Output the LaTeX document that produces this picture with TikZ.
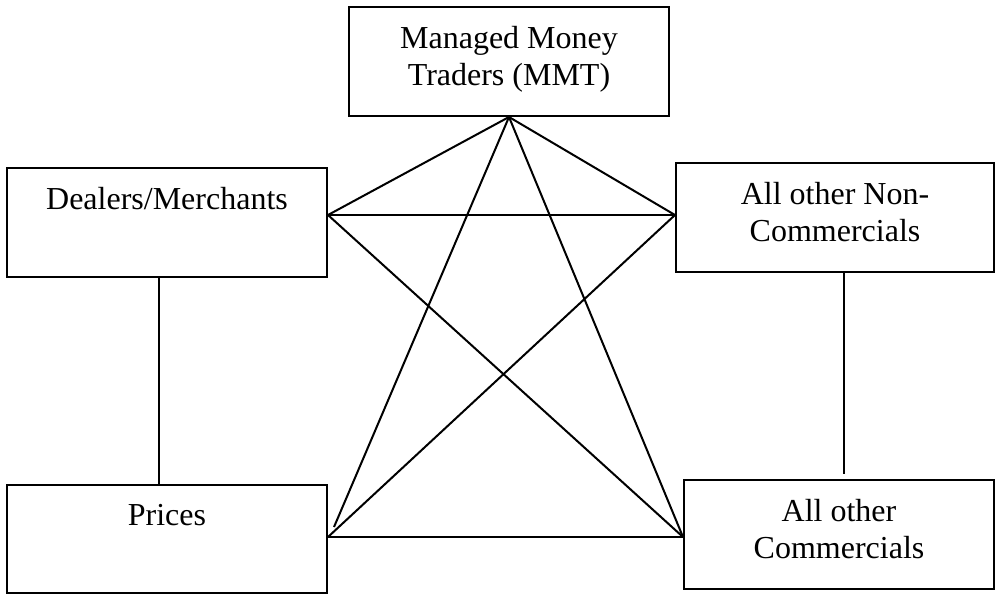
\documentclass[tikz,border=0pt]{standalone}
\usepackage{fontspec}
\setmainfont{Liberation Serif}
\begin{document}
\begin{tikzpicture}[x=0.5pt, y=-0.5pt, line width=1pt]

 \useasboundingbox (0,0) rectangle (995,595);

	%draw boxes
    \foreach \name/\x/\y/\w/\h in { mmt/509/61.5/160/54.5, deal/167/222.5/160/54.5, noncom/835/217.5/159/54.5, prices/167/539/160/54, com/839/534.5/155/54.5}{
           \node[draw, inner sep=0pt, minimum width=\w pt, minimum height=\h pt] (\name) at (\x,\y) {};
    }

	%labels
    \foreach \name/\lbl in { mmt/{Managed Money\\Traders (MMT)}, deal/{Dealers/Merchants}, noncom/{All other Non-\\Commercials}, prices/Prices, com/{All other\\Commercials}}{
           \node[anchor=north, align=center, inner sep=0pt, yshift=-9.5pt, font=\fontsize{16}{18.5}\selectfont] (\name-t) at (\name.north) {\lbl};
    }

	%links
 \draw (mmt.south) -- ([yshift=3.75pt]deal.east);
 \draw (mmt.south) -- ([yshift=1.25pt]noncom.west);
 \draw (mmt.south) -- ([shift={(3pt,6pt)}]prices.east);
 \draw (mmt.south) -- ([yshift=-1.25pt]com.west);
 \draw ([yshift=3.75pt]deal.east) -- ([yshift=1.25pt]noncom.west);
 \draw ([yshift=3.75pt]deal.east) -- ([yshift=-1.25pt]com.west);
 \draw ([yshift=1.25pt]noncom.west) -- ([yshift=1pt]prices.east);
 \draw ([yshift=1pt]prices.east) -- ([yshift=-1.25pt]com.west);
 \draw ([xshift=-4pt]deal.south) -- ([xshift=-4pt]prices.north);
 \draw ([xshift=4.5pt]noncom.south) -- ([shift={(2.5pt,2.5pt)}]com.north);

\end{tikzpicture}
\end{document}
